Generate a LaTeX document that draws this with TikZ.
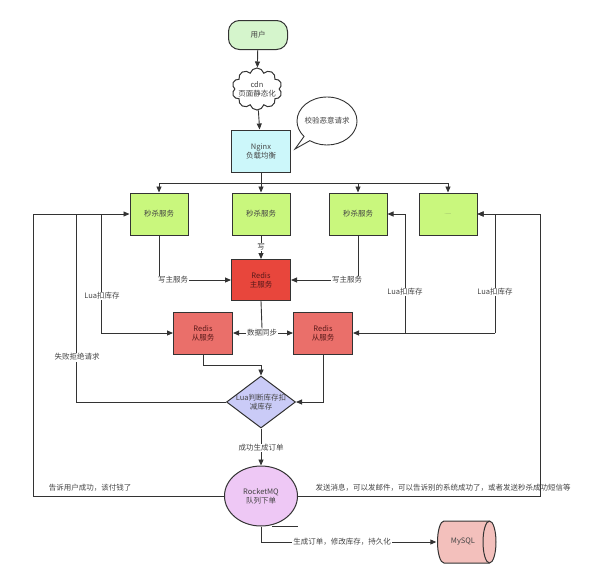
\documentclass[tikz,border=0pt]{standalone}
\usepackage{fontspec}
\setmainfont{Noto Sans CJK SC}
\usetikzlibrary{arrows.meta,shapes.geometric,shapes.symbols,shapes.callouts,calc}
\definecolor{ln}{HTML}{333333}
\definecolor{txt}{HTML}{444444}
\definecolor{usr}{HTML}{D5F5CC}
\definecolor{ngx}{HTML}{CCF7FA}
\definecolor{kill}{HTML}{C9F77D}
\definecolor{rmaster}{HTML}{E8463C}
\definecolor{rslave}{HTML}{EA6F6A}
\definecolor{rtxt}{HTML}{5A1A1A}
\definecolor{dia}{HTML}{CACBF7}
\definecolor{mq}{HTML}{EEC8F5}
\definecolor{sql}{HTML}{F3C0BC}
\begin{document}
\begin{tikzpicture}[x=1pt,y=-1pt,
  every node/.style={font=\fontsize{7.5}{9}\selectfont, text=txt, align=center},
  box/.style={draw=ln, line width=1pt, minimum width=58pt, minimum height=42pt, inner sep=0pt},
  usrbox/.style={box, fill=usr, rounded corners=11pt, minimum height=29pt, minimum width=59pt},
  ngxbox/.style={box, fill=ngx, minimum width=59pt},
  killbox/.style={box, fill=kill},
  rmbox/.style={box, fill=rmaster, text=rtxt, minimum width=59pt, minimum height=41pt},
  rsbox/.style={box, fill=rslave, text=rtxt, minimum width=59pt},
  conn/.style={draw=ln, line width=0.9pt},
  arr/.style={conn, -{Triangle[width=5pt,length=6pt]}},
  lab/.style={fill=white, inner sep=1pt},
  bare/.style={inner sep=0pt}
]
\useasboundingbox (0,0) rectangle (589,581);
\fill[white] (0,0) rectangle (589,581);

% nodes
\node[usrbox] (user) at (258,35) {用户};
\node[cloud, cloud puffs=10, draw=ln, line width=1pt, fill=white, minimum width=50pt, minimum height=42pt, inner sep=0pt] (cdn) at (257,89) {};
\node[bare] (cdntxt) at (257,89) {cdn\\页面静态化};
\node[ngxbox] (ngx) at (261,151) {Nginx\\负载均衡};
\node[ellipse callout, draw=ln, line width=0.9pt, fill=white, minimum width=60pt, minimum height=48pt, inner sep=0pt, callout absolute pointer={(295,149)}] (chk) at (327,121) {};
\node[bare] (chktxt) at (327,121) {校验恶意请求};

\node[killbox] (k1) at (159,214) {秒杀服务};
\node[killbox] (k2) at (261,214) {秒杀服务};
\node[killbox] (k3) at (358,214) {秒杀服务};
\node[killbox] (k4) at (448,214) {\fontsize{4}{5}\selectfont ......};

\node[rmbox] (rm) at (261,280) {Redis\\主服务};
\node[rsbox] (rs1) at (203,333) {Redis\\从服务};
\node[rsbox] (rs2) at (323,333) {Redis\\从服务};

\node[diamond, draw=ln, line width=1pt, fill=dia, minimum width=69pt, minimum height=52pt, inner sep=0pt] (dia) at (261,402) {};
\node[bare] (diatxt) at (261,402) {Lua判断库存扣\\减库存};

\node[ellipse, draw=ln, line width=1pt, fill=mq, minimum width=73pt, minimum height=60pt, inner sep=0pt] (mq) at (261,496) {RocketMQ\\队列下单};

% MySQL cylinder (horizontal, cap on the right)
\draw[draw=ln, line width=1pt, fill=sql]
  (489.5,521) -- (444,521)
  arc[start angle=270, end angle=90, x radius=6.5, y radius=21]
  -- (489.5,563)
  arc[start angle=90, end angle=-90, x radius=6.5, y radius=21] -- cycle;
\draw[draw=ln, line width=1pt]
  (489.5,521) arc[start angle=270, end angle=90, x radius=6.5, y radius=21];
\node[inner sep=0pt, minimum width=59pt, minimum height=42pt] (sql) at (466,542) {};
\node[bare] (sqltxt) at (463,542) {MySQL};

% free coordinates
\coordinate (busL) at (159,183);
\coordinate (busM) at (261,183);
\coordinate (busR3) at (358,183);
\coordinate (busR) at (448,183);
\coordinate (lu1) at (101,214);
\coordinate (fl) at (76,214);
\coordinate (tl) at (33,214);
\coordinate (tr) at (540,214);
\coordinate (lu2c) at (405,333);
\coordinate (lu3c) at (495,333);
\coordinate (sA) at (272,526);
\coordinate (sB) at (298,526);

% connectors
\draw[arr] (user) -- (cdn);
\draw[arr] (cdn) -- (ngx);
\draw[conn] (busL) -- (busR);
\draw[arr] (ngx) -- (k2);
\draw[arr] (busL) -- (k1.north);
\draw[arr] (busR3) -- (k3.north);
\draw[arr] (busR) -- (k4.north);

\draw[arr] (k2) -- (rm);
\draw[arr] (k1.south) |- (rm.west);
\draw[arr] (k3.south) |- (rm.east);

\node[lab] (sync) at (262,333) {数据同步};
\draw[conn] (rm.south) -- (sync.north);
\draw[arr] (sync.west) -- (rs1.east);
\draw[arr] (sync.east) -- (rs2.west);

\draw[arr] (lu1) |- (rs1.west);
\draw[arr] (lu3c) -- (rs2.east);
\draw[arr] (lu2c) |- (k3.east);
\draw[arr] (lu3c) |- (k4.east);

\draw[arr] (rs1.south) -- ++(0,11) -| (dia.north);
\draw[arr] (rs2.south) |- (dia.east);
\draw[conn] (dia.west) -| (fl);
\draw[arr] (mq.west) -| (tl) -- (k1.west);
\draw[arr] (mq.east) -| (tr) -- (k4.east);
\draw[arr] (dia.south) -- (mq.north);
\draw[arr] (mq.south) |- (sql.west);
\draw[conn] (sA) -- (sB);

% labels
\node[lab] (l1) at (261,247) {写};
\node[lab] (l2) at (173,280) {写主服务};
\node[lab] (l3) at (347,280) {写主服务};
\node[lab] (l4) at (102,296) {Lua扣库存};
\node[lab] (l5) at (405,292) {Lua扣库存};
\node[lab] (l6) at (495,292) {Lua扣库存};
\node[lab] (l7) at (77,357) {失败拒绝请求};
\node[lab] (l8) at (261,448) {成功生成订单};
\node[bare] (l9) at (90,488) {告诉用户成功，该付钱了};
\node[bare] (l10) at (443,488) {发送消息，可以发邮件，可以告诉别的系统成功了，或者发送秒杀成功短信等};
\node[lab] (l11) at (342,542) {生成订单，修改库存，持久化};
\end{tikzpicture}
\end{document}
